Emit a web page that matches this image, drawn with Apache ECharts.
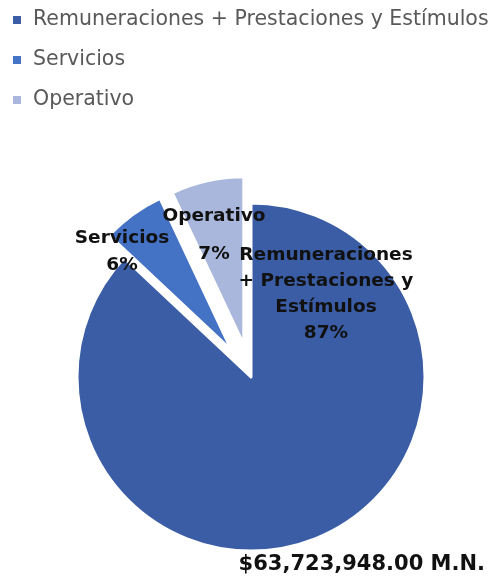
<!DOCTYPE html>
<html>
<head>
<meta charset="utf-8">
<script src="https://cdn.jsdelivr.net/npm/echarts@6/dist/echarts.min.js"></script>
<style>
  html, body { margin: 0; padding: 0; background: #ffffff; }
  #chart { width: 493px; height: 580px; }
</style>
</head>
<body>
<div id="chart"></div>
<script>
// Distribución del presupuesto por capítulo de gasto
const categories = ['Remuneraciones + Prestaciones y Estímulos', 'Servicios', 'Operativo'];
const labelNames = ['Remuneraciones\n+ Prestaciones y\nEstímulos', 'Servicios', 'Operativo'];
const shares = [87, 6, 7];
const exploded = [false, true, true];
const totalText = '$63,723,948.00 M.N.';

const colors = ['#3A5DA5', '#4472C4', '#A8B7DB'];
const FONT = 'DejaVu Sans';
const CENTER = [251, 377];
const RADIUS = 174;
const EXPLODED_RADIUS = 168;
const CLEAR = 'rgba(0,0,0,0)';

// label anchor points (centre of each label block)
const labelSpots = [
  { x: 326, y: 294, lineHeight: 26 },
  { x: 122, y: 252, lineHeight: 27 },
  { x: 214, y: 235, lineHeight: 38 }
];

// slices that stay in place
const baseData = categories.map((name, i) => ({
  name: name,
  value: shares[i],
  itemStyle: { color: exploded[i] ? CLEAR : colors[i], borderColor: exploded[i] ? CLEAR : '#ffffff' }
}));

// slices pulled out of the pie
const explodedData = categories.map((name, i) => ({
  name: name,
  value: shares[i],
  selected: exploded[i],
  itemStyle: { color: exploded[i] ? colors[i] : CLEAR, borderColor: exploded[i] ? '#ffffff' : CLEAR }
}));

// same values again, drawn invisibly, carrying the data labels
const labelData = categories.map((name, i) => ({
  name: name,
  value: shares[i],
  label: { lineHeight: labelSpots[i].lineHeight }
}));

const pieBase = {
  type: 'pie',
  center: CENTER,
  startAngle: 90,
  clockwise: true,
  silent: true,
  labelLine: { show: false },
  emphasis: { disabled: true }
};

const chart = echarts.init(document.getElementById('chart'), null, { renderer: 'canvas' });
chart.setOption({
  animation: false,
  backgroundColor: '#ffffff',
  title: {
    text: totalText,
    right: 3,
    bottom: 0,
    textStyle: { fontFamily: FONT, fontWeight: 'bold', fontSize: 21, color: '#111111' }
  },
  legend: {
    orient: 'vertical',
    left: 8,
    top: 4,
    icon: 'rect',
    itemWidth: 8,
    itemHeight: 8,
    itemGap: 18,
    selectedMode: false,
    textStyle: { fontFamily: FONT, fontSize: 20.5, color: '#595959', lineHeight: 22, padding: [0, 0, 0, 7] },
    data: categories.map((name, i) => ({
      name: name,
      itemStyle: { color: colors[i], borderWidth: 0, borderColor: CLEAR }
    }))
  },
  series: [
    Object.assign({}, pieBase, {
      radius: RADIUS,
      itemStyle: { borderWidth: 3 },
      label: { show: false },
      data: baseData
    }),
    Object.assign({}, pieBase, {
      radius: EXPLODED_RADIUS,
      selectedMode: 'multiple',
      selectedOffset: 33,
      itemStyle: { borderWidth: 3 },
      label: { show: false },
      data: explodedData
    }),
    Object.assign({}, pieBase, {
      radius: RADIUS,
      z: 5,
      itemStyle: { color: CLEAR, borderWidth: 0 },
      label: {
        show: true,
        position: 'inside',
        fontFamily: FONT,
        fontWeight: 'bold',
        fontSize: 18.5,
        color: '#111111',
        align: 'center',
        formatter: p => labelNames[p.dataIndex] + '\n' + p.percent.toFixed(0) + '%'
      },
      labelLayout: p => ({
        x: labelSpots[p.dataIndex].x,
        y: labelSpots[p.dataIndex].y,
        align: 'center',
        verticalAlign: 'middle'
      }),
      data: labelData
    })
  ]
});
</script>
</body>
</html>
